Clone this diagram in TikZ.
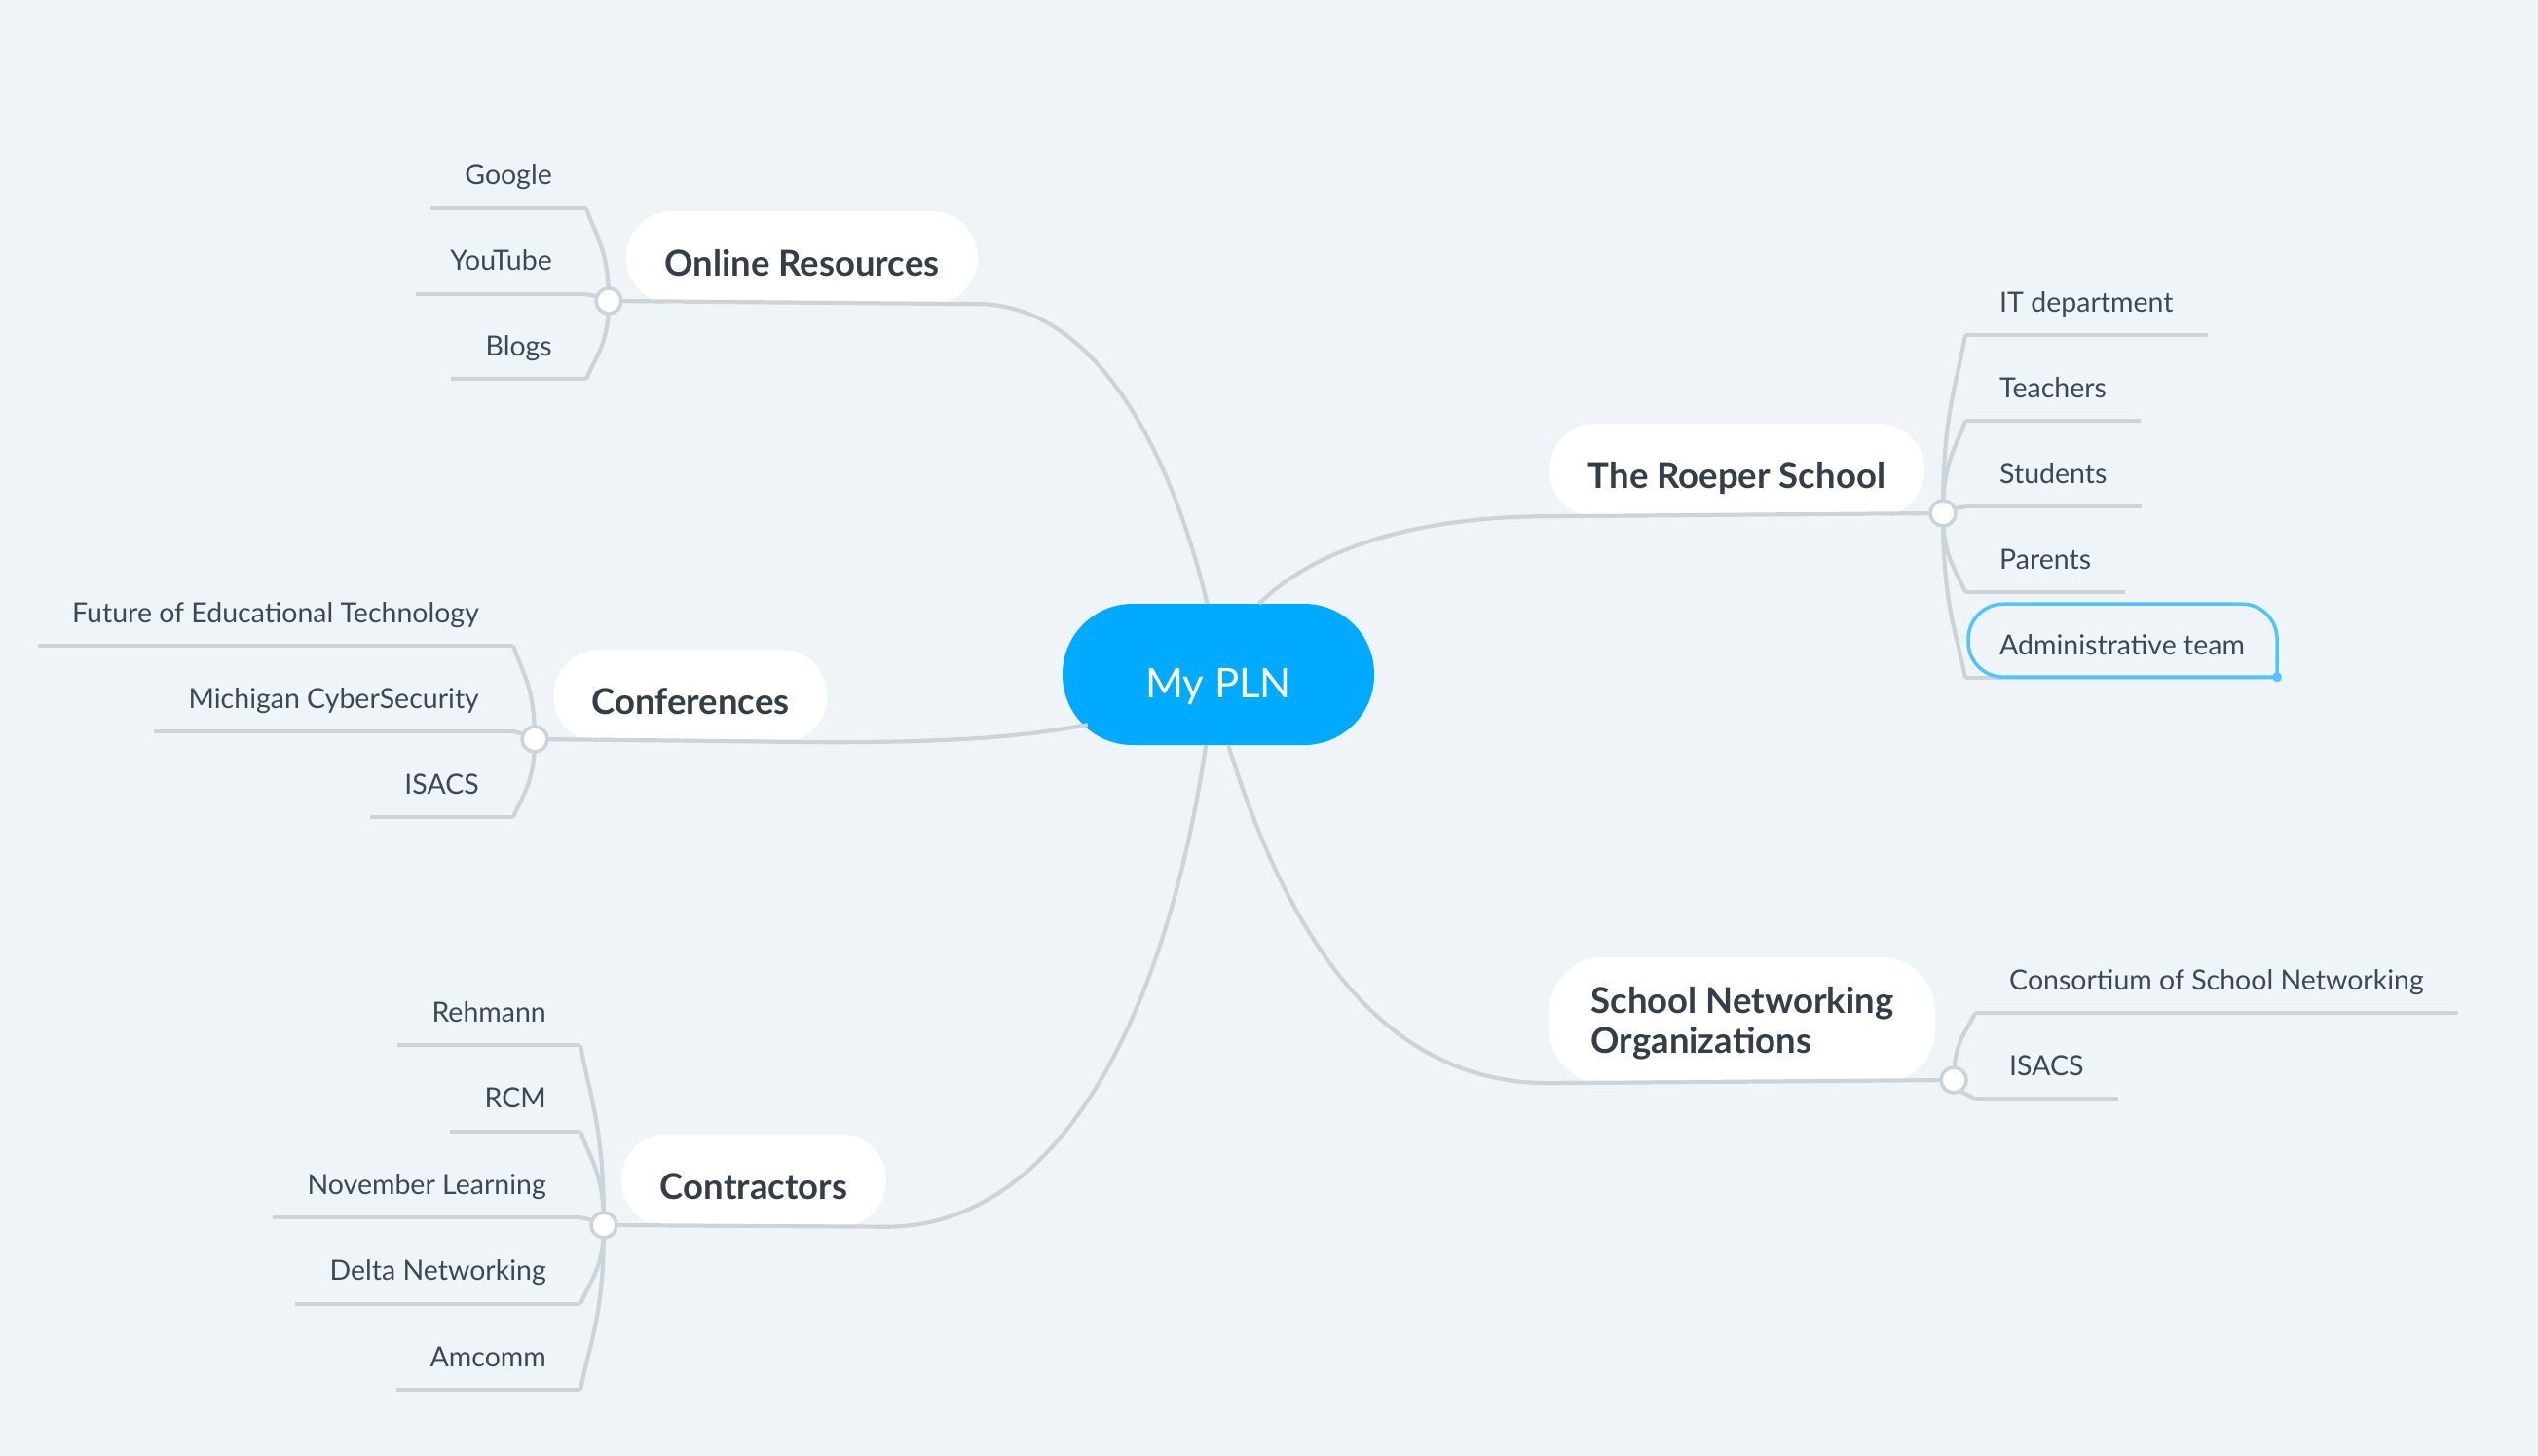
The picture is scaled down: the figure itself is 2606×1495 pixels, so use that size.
\documentclass[tikz,border=0pt]{standalone}
\usepackage{fontspec}
\setmainfont{Lato}
\usetikzlibrary{calc}
\definecolor{bgcol}{HTML}{EFF4F8}
\definecolor{linecol}{HTML}{CDD4D9}
\definecolor{plnblue}{HTML}{00AAFF}
\definecolor{topictext}{HTML}{343E48}
\definecolor{leaftext}{HTML}{3F4852}
\definecolor{selblue}{HTML}{50C4FF}
\begin{document}
\begin{tikzpicture}[x=1pt,y=-1pt,
	branch/.style={draw=linecol,line width=4.2pt},
	topic/.style={fill=white,rounded corners=47pt,minimum height=95pt,inner xsep=0pt,text=topictext,font=\fontsize{36.5}{41}\selectfont\bfseries},
	oneline/.style={text height=46pt,text depth=8pt},
	leaf/.style={inner xsep=35pt,inner ysep=16pt,text height=22pt,text depth=8pt,text=leaftext,font=\fontsize{28.5}{35}\selectfont},
	leafL/.style={leaf,anchor=base east},
	leafR/.style={leaf,anchor=base west},
	junction/.style={fill=white,draw=linecol,line width=3.6pt}]
	\fill[bgcol] (0,0) rectangle (2606,1495);
	\node[fill=plnblue,rounded corners=72pt,minimum width=320pt,minimum height=145pt,text height=56pt,text depth=9pt,text=white,font=\fontsize{42}{50}\selectfont] (pln) at (1251,692.5) {My PLN};
	\node[topic,oneline,minimum width=361pt] (online) at (823.5,264.5) {Online Resources};
	\node[topic,oneline,minimum width=281pt] (conf) at (709,714.5) {Conferences};
	\node[topic,oneline,minimum width=272pt] (contr) at (774,1212) {Contractors};
	\node[topic,oneline,minimum width=385pt] (roeper) at (1783.5,482.5) {The Roeper School};
	\node[topic,minimum width=396pt,minimum height=129pt,rounded corners=55pt,text height=77pt,text depth=10pt] (sno) at (1789,1047.5) {\begin{tabular}[b]{@{}l@{}}School Networking\\Organizations\end{tabular}};
	\coordinate (jOnline) at (625,309);
	\coordinate (jConf) at (549,759);
	\coordinate (jContr) at (620,1258);
	\coordinate (jRoeper) at (1995,527);
	\coordinate (jSno) at (2006,1109);
	\node[leafL] (google) at (602,190) {Google};
	\node[leafL] (youtube) at (602,278) {YouTube};
	\node[leafL] (blogs) at (602,365) {Blogs};
	\node[leafL] (future) at (527,639) {Future of Educational Technology};
	\node[leafL] (michigan) at (527,727) {Michigan CyberSecurity};
	\node[leafL] (isacsConf) at (527,815) {ISACS};
	\node[leafL] (rehmann) at (596,1049) {Rehmann};
	\node[leafL] (rcm) at (596,1137.5) {RCM};
	\node[leafL] (november) at (596,1226) {November Learning};
	\node[leafL] (delta) at (596,1314.5) {Delta Networking};
	\node[leafL] (amcomm) at (596,1403) {Amcomm};
	\node[leafR] (itdep) at (2018,320) {IT department};
	\node[leafR] (teachers) at (2018,408) {Teachers};
	\node[leafR] (students) at (2018,496) {Students};
	\node[leafR] (parents) at (2018,584) {Parents};
	\node[leafR] (admin) at (2018,672) {Administrative team};
	\node[leafR] (consortium) at (2028,1016) {Consortium of School Networking};
	\node[leafR] (isacsSno) at (2028,1104) {ISACS};
	\draw[branch] (pln.99.5) .. controls +(-43,-180) and +(110,0) .. (online.south east) -- (jOnline);
	\draw[branch] ($(pln.south west)+(26,-21)$) .. controls +(-57,10) and +(150,0) .. (conf.south east) -- (jConf);
	\draw[branch] (pln.260.5) .. controls +(-44,295) and +(170,0) .. (contr.south east) -- (jContr);
	\draw[branch] (pln.60) .. controls +(50,-50) and +(-150,0) .. (roeper.south west) -- (jRoeper);
	\draw[branch] (pln.278.6) .. controls +(62,200) and +(-171,0) .. (sno.south west) -- (jSno);
	\foreach \n in {google,youtube,blogs,future,michigan,isacsConf,rehmann,rcm,november,delta,amcomm,itdep,teachers,students,parents,admin,consortium,isacsSno}
		\draw[branch] (\n.south west) -- (\n.south east);
	\foreach \j/\n/\k in {jOnline/google/-95,jOnline/youtube/-7,jOnline/blogs/80,jConf/future/-96,jConf/michigan/-8,jConf/isacsConf/80,jContr/rehmann/-185,jContr/rcm/-96.5,jContr/november/-8,jContr/delta/80.5,jContr/amcomm/169}
		\draw[branch] (\j) .. controls +(0,{0.55*(\k)}) and +(10,{-0.3*(\k)}) .. (\n.south east);
	\foreach \j/\n/\k in {jRoeper/itdep/-183,jRoeper/teachers/-95,jRoeper/students/-7,jRoeper/parents/81,jRoeper/admin/169,jSno/consortium/-69,jSno/isacsSno/19}
		\draw[branch] (\j) .. controls +(0,{0.55*(\k)}) and +(-10,{-0.3*(\k)}) .. (\n.south west);
	\foreach \j in {jOnline,jConf,jContr,jRoeper,jSno}
		\draw[junction] (\j) circle (13pt);
	\draw[draw=selblue,line width=3.5pt,rounded corners=36pt] ($(admin.south east)+(-2,-1)$) -- ($(admin.south west)+(3,-1)$) -- ($(admin.south west)+(3,-76)$) -- ($(admin.south east)+(-2,-76)$) -- ($(admin.south east)+(-2,-1)$);
	\fill[selblue] ($(admin.south east)+(-2,-1)$) circle (5pt);
\end{tikzpicture}
\end{document}
